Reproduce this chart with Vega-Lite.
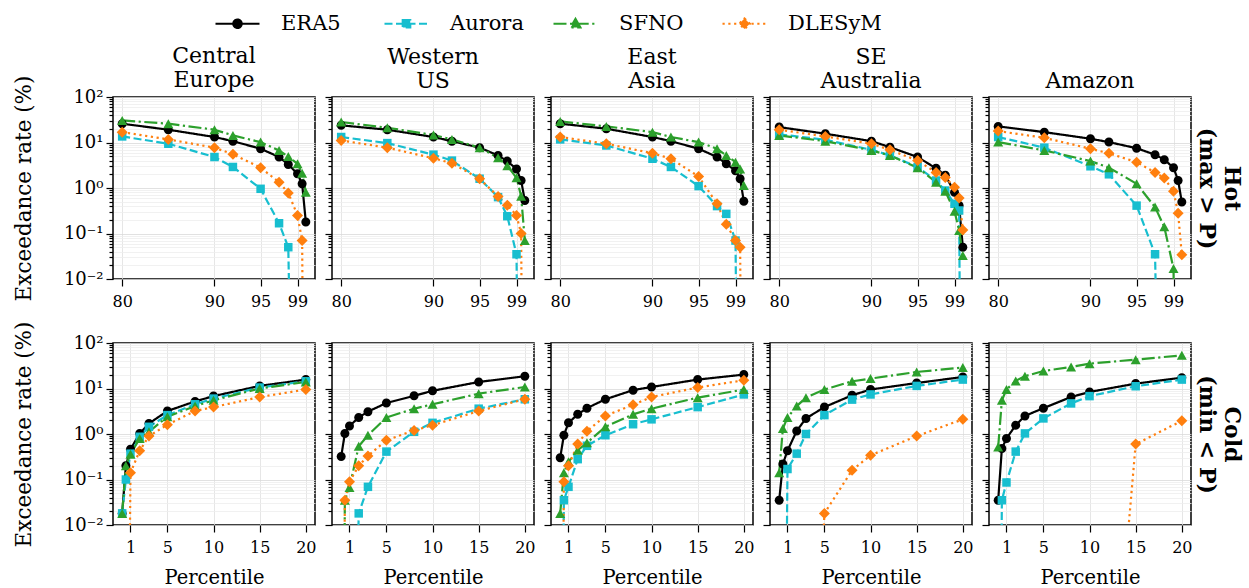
{
"$schema":"https://vega.github.io/schema/vega-lite/v6.json",
"background":"white",
"padding":{"left":12,"top":0,"right":8,"bottom":0},
"datasets":{"d":[
{"k":"h","r":"CE","m":"ERA5","p":80,"v":25.9},{"k":"h","r":"CE","m":"ERA5","p":85,"v":19.1},{"k":"h","r":"CE","m":"ERA5","p":90,"v":13.2},{"k":"h","r":"CE","m":"ERA5","p":92,"v":10.7},{"k":"h","r":"CE","m":"ERA5","p":95,"v":7.3},{"k":"h","r":"CE","m":"ERA5","p":97,"v":4.8},{"k":"h","r":"CE","m":"ERA5","p":98,"v":3.3},{"k":"h","r":"CE","m":"ERA5","p":99,"v":2.05},{"k":"h","r":"CE","m":"ERA5","p":99.5,"v":1.24},{"k":"h","r":"CE","m":"ERA5","p":99.9,"v":0.18},
{"k":"h","r":"CE","m":"Aurora","p":80,"v":13.6},{"k":"h","r":"CE","m":"Aurora","p":85,"v":9.4},{"k":"h","r":"CE","m":"Aurora","p":90,"v":4.8},{"k":"h","r":"CE","m":"Aurora","p":92,"v":2.9},{"k":"h","r":"CE","m":"Aurora","p":95,"v":0.96},{"k":"h","r":"CE","m":"Aurora","p":97,"v":0.168},{"k":"h","r":"CE","m":"Aurora","p":98,"v":0.05},{"k":"h","r":"CE","m":"Aurora","p":99,"v":1e-12},{"k":"h","r":"CE","m":"Aurora","p":99.5,"v":1e-12},{"k":"h","r":"CE","m":"Aurora","p":99.9,"v":1e-12},
{"k":"h","r":"CE","m":"SFNO","p":80,"v":30.6},{"k":"h","r":"CE","m":"SFNO","p":85,"v":25.9},{"k":"h","r":"CE","m":"SFNO","p":90,"v":19.1},{"k":"h","r":"CE","m":"SFNO","p":92,"v":14.3},{"k":"h","r":"CE","m":"SFNO","p":95,"v":10.2},{"k":"h","r":"CE","m":"SFNO","p":97,"v":6.7},{"k":"h","r":"CE","m":"SFNO","p":98,"v":4.9},{"k":"h","r":"CE","m":"SFNO","p":99,"v":3.4},{"k":"h","r":"CE","m":"SFNO","p":99.5,"v":2.1},{"k":"h","r":"CE","m":"SFNO","p":99.9,"v":0.81},
{"k":"h","r":"CE","m":"DLESyM","p":80,"v":16.9},{"k":"h","r":"CE","m":"DLESyM","p":85,"v":11.7},{"k":"h","r":"CE","m":"DLESyM","p":90,"v":7.7},{"k":"h","r":"CE","m":"DLESyM","p":92,"v":5.5},{"k":"h","r":"CE","m":"DLESyM","p":95,"v":2.8},{"k":"h","r":"CE","m":"DLESyM","p":97,"v":1.34},{"k":"h","r":"CE","m":"DLESyM","p":98,"v":0.78},{"k":"h","r":"CE","m":"DLESyM","p":99,"v":0.25},{"k":"h","r":"CE","m":"DLESyM","p":99.5,"v":0.07},{"k":"h","r":"CE","m":"DLESyM","p":99.9,"v":1e-12},

{"k":"h","r":"WUS","m":"ERA5","p":80,"v":23.8},{"k":"h","r":"WUS","m":"ERA5","p":85,"v":19.1},{"k":"h","r":"WUS","m":"ERA5","p":90,"v":13.2},{"k":"h","r":"WUS","m":"ERA5","p":92,"v":10.7},{"k":"h","r":"WUS","m":"ERA5","p":95,"v":7.7},{"k":"h","r":"WUS","m":"ERA5","p":97,"v":5.2},{"k":"h","r":"WUS","m":"ERA5","p":98,"v":3.9},{"k":"h","r":"WUS","m":"ERA5","p":99,"v":2.6},{"k":"h","r":"WUS","m":"ERA5","p":99.5,"v":1.46},{"k":"h","r":"WUS","m":"ERA5","p":99.9,"v":0.53},
{"k":"h","r":"WUS","m":"Aurora","p":80,"v":13.2},{"k":"h","r":"WUS","m":"Aurora","p":85,"v":9.7},{"k":"h","r":"WUS","m":"Aurora","p":90,"v":5.4},{"k":"h","r":"WUS","m":"Aurora","p":92,"v":4.0},{"k":"h","r":"WUS","m":"Aurora","p":95,"v":1.6},{"k":"h","r":"WUS","m":"Aurora","p":97,"v":0.63},{"k":"h","r":"WUS","m":"Aurora","p":98,"v":0.24},{"k":"h","r":"WUS","m":"Aurora","p":99,"v":0.035},{"k":"h","r":"WUS","m":"Aurora","p":99.5,"v":1e-12},{"k":"h","r":"WUS","m":"Aurora","p":99.9,"v":1e-12},
{"k":"h","r":"WUS","m":"SFNO","p":80,"v":28.2},{"k":"h","r":"WUS","m":"SFNO","p":85,"v":21.1},{"k":"h","r":"WUS","m":"SFNO","p":90,"v":14.6},{"k":"h","r":"WUS","m":"SFNO","p":92,"v":11.7},{"k":"h","r":"WUS","m":"SFNO","p":95,"v":7.7},{"k":"h","r":"WUS","m":"SFNO","p":97,"v":4.6},{"k":"h","r":"WUS","m":"SFNO","p":98,"v":3.1},{"k":"h","r":"WUS","m":"SFNO","p":99,"v":1.67},{"k":"h","r":"WUS","m":"SFNO","p":99.5,"v":0.66},{"k":"h","r":"WUS","m":"SFNO","p":99.9,"v":0.07},
{"k":"h","r":"WUS","m":"DLESyM","p":80,"v":11.1},{"k":"h","r":"WUS","m":"DLESyM","p":85,"v":7.7},{"k":"h","r":"WUS","m":"DLESyM","p":90,"v":4.5},{"k":"h","r":"WUS","m":"DLESyM","p":92,"v":3.5},{"k":"h","r":"WUS","m":"DLESyM","p":95,"v":1.6},{"k":"h","r":"WUS","m":"DLESyM","p":97,"v":0.65},{"k":"h","r":"WUS","m":"DLESyM","p":98,"v":0.42},{"k":"h","r":"WUS","m":"DLESyM","p":99,"v":0.25},{"k":"h","r":"WUS","m":"DLESyM","p":99.5,"v":0.1},{"k":"h","r":"WUS","m":"DLESyM","p":99.9,"v":1e-12},

{"k":"h","r":"EA","m":"ERA5","p":80,"v":25.9},{"k":"h","r":"EA","m":"ERA5","p":85,"v":20.1},{"k":"h","r":"EA","m":"ERA5","p":90,"v":13.2},{"k":"h","r":"EA","m":"ERA5","p":92,"v":10.7},{"k":"h","r":"EA","m":"ERA5","p":95,"v":7.3},{"k":"h","r":"EA","m":"ERA5","p":97,"v":4.8},{"k":"h","r":"EA","m":"ERA5","p":98,"v":3.4},{"k":"h","r":"EA","m":"ERA5","p":99,"v":2.4},{"k":"h","r":"EA","m":"ERA5","p":99.5,"v":1.6},{"k":"h","r":"EA","m":"ERA5","p":99.9,"v":0.51},
{"k":"h","r":"EA","m":"Aurora","p":80,"v":11.7},{"k":"h","r":"EA","m":"Aurora","p":85,"v":8.6},{"k":"h","r":"EA","m":"Aurora","p":90,"v":4.4},{"k":"h","r":"EA","m":"Aurora","p":92,"v":2.9},{"k":"h","r":"EA","m":"Aurora","p":95,"v":1.1},{"k":"h","r":"EA","m":"Aurora","p":97,"v":0.4},{"k":"h","r":"EA","m":"Aurora","p":98,"v":0.27},{"k":"h","r":"EA","m":"Aurora","p":99,"v":0.07},{"k":"h","r":"EA","m":"Aurora","p":99.5,"v":1e-12},{"k":"h","r":"EA","m":"Aurora","p":99.9,"v":1e-12},
{"k":"h","r":"EA","m":"SFNO","p":80,"v":29.1},{"k":"h","r":"EA","m":"SFNO","p":85,"v":22.6},{"k":"h","r":"EA","m":"SFNO","p":90,"v":16.9},{"k":"h","r":"EA","m":"SFNO","p":92,"v":13.2},{"k":"h","r":"EA","m":"SFNO","p":95,"v":10.2},{"k":"h","r":"EA","m":"SFNO","p":97,"v":7.3},{"k":"h","r":"EA","m":"SFNO","p":98,"v":5.2},{"k":"h","r":"EA","m":"SFNO","p":99,"v":3.7},{"k":"h","r":"EA","m":"SFNO","p":99.5,"v":2.6},{"k":"h","r":"EA","m":"SFNO","p":99.9,"v":1.14},
{"k":"h","r":"EA","m":"DLESyM","p":80,"v":13.2},{"k":"h","r":"EA","m":"DLESyM","p":85,"v":9.4},{"k":"h","r":"EA","m":"DLESyM","p":90,"v":5.8},{"k":"h","r":"EA","m":"DLESyM","p":92,"v":4.4},{"k":"h","r":"EA","m":"DLESyM","p":95,"v":1.8},{"k":"h","r":"EA","m":"DLESyM","p":97,"v":0.45},{"k":"h","r":"EA","m":"DLESyM","p":98,"v":0.16},{"k":"h","r":"EA","m":"DLESyM","p":99,"v":0.07},{"k":"h","r":"EA","m":"DLESyM","p":99.5,"v":0.05},{"k":"h","r":"EA","m":"DLESyM","p":99.9,"v":1e-12},

{"k":"h","r":"SEA","m":"ERA5","p":80,"v":21.8},{"k":"h","r":"SEA","m":"ERA5","p":85,"v":15.6},{"k":"h","r":"SEA","m":"ERA5","p":90,"v":10.7},{"k":"h","r":"SEA","m":"ERA5","p":92,"v":7.9},{"k":"h","r":"SEA","m":"ERA5","p":95,"v":4.8},{"k":"h","r":"SEA","m":"ERA5","p":97,"v":2.7},{"k":"h","r":"SEA","m":"ERA5","p":98,"v":1.9},{"k":"h","r":"SEA","m":"ERA5","p":99,"v":0.81},{"k":"h","r":"SEA","m":"ERA5","p":99.5,"v":0.41},{"k":"h","r":"SEA","m":"ERA5","p":99.9,"v":0.05},
{"k":"h","r":"SEA","m":"Aurora","p":80,"v":15.1},{"k":"h","r":"SEA","m":"Aurora","p":85,"v":11.5},{"k":"h","r":"SEA","m":"Aurora","p":90,"v":6.9},{"k":"h","r":"SEA","m":"Aurora","p":92,"v":5.2},{"k":"h","r":"SEA","m":"Aurora","p":95,"v":2.9},{"k":"h","r":"SEA","m":"Aurora","p":97,"v":1.46},{"k":"h","r":"SEA","m":"Aurora","p":98,"v":0.88},{"k":"h","r":"SEA","m":"Aurora","p":99,"v":0.45},{"k":"h","r":"SEA","m":"Aurora","p":99.5,"v":0.32},{"k":"h","r":"SEA","m":"Aurora","p":99.9,"v":1e-12},
{"k":"h","r":"SEA","m":"SFNO","p":80,"v":14.3},{"k":"h","r":"SEA","m":"SFNO","p":85,"v":10.7},{"k":"h","r":"SEA","m":"SFNO","p":90,"v":6.7},{"k":"h","r":"SEA","m":"SFNO","p":92,"v":5.2},{"k":"h","r":"SEA","m":"SFNO","p":95,"v":2.8},{"k":"h","r":"SEA","m":"SFNO","p":97,"v":1.34},{"k":"h","r":"SEA","m":"SFNO","p":98,"v":0.85},{"k":"h","r":"SEA","m":"SFNO","p":99,"v":0.31},{"k":"h","r":"SEA","m":"SFNO","p":99.5,"v":0.116},{"k":"h","r":"SEA","m":"SFNO","p":99.9,"v":0.033},
{"k":"h","r":"SEA","m":"DLESyM","p":80,"v":19.1},{"k":"h","r":"SEA","m":"DLESyM","p":85,"v":13.6},{"k":"h","r":"SEA","m":"DLESyM","p":90,"v":9.4},{"k":"h","r":"SEA","m":"DLESyM","p":92,"v":6.9},{"k":"h","r":"SEA","m":"DLESyM","p":95,"v":4.0},{"k":"h","r":"SEA","m":"DLESyM","p":97,"v":2.2},{"k":"h","r":"SEA","m":"DLESyM","p":98,"v":1.7},{"k":"h","r":"SEA","m":"DLESyM","p":99,"v":1.04},{"k":"h","r":"SEA","m":"DLESyM","p":99.5,"v":0.6},{"k":"h","r":"SEA","m":"DLESyM","p":99.9,"v":0.12},

{"k":"h","r":"AMZ","m":"ERA5","p":80,"v":22.6},{"k":"h","r":"AMZ","m":"ERA5","p":85,"v":16.9},{"k":"h","r":"AMZ","m":"ERA5","p":90,"v":12.1},{"k":"h","r":"AMZ","m":"ERA5","p":92,"v":10.2},{"k":"h","r":"AMZ","m":"ERA5","p":95,"v":7.5},{"k":"h","r":"AMZ","m":"ERA5","p":97,"v":5.4},{"k":"h","r":"AMZ","m":"ERA5","p":98,"v":4.2},{"k":"h","r":"AMZ","m":"ERA5","p":99,"v":2.8},{"k":"h","r":"AMZ","m":"ERA5","p":99.5,"v":1.46},{"k":"h","r":"AMZ","m":"ERA5","p":99.9,"v":0.49},
{"k":"h","r":"AMZ","m":"Aurora","p":80,"v":13.2},{"k":"h","r":"AMZ","m":"Aurora","p":85,"v":7.7},{"k":"h","r":"AMZ","m":"Aurora","p":90,"v":3.0},{"k":"h","r":"AMZ","m":"Aurora","p":92,"v":2.0},{"k":"h","r":"AMZ","m":"Aurora","p":95,"v":0.41},{"k":"h","r":"AMZ","m":"Aurora","p":97,"v":0.035},{"k":"h","r":"AMZ","m":"Aurora","p":98,"v":1e-12},{"k":"h","r":"AMZ","m":"Aurora","p":99,"v":1e-12},{"k":"h","r":"AMZ","m":"Aurora","p":99.5,"v":1e-12},{"k":"h","r":"AMZ","m":"Aurora","p":99.9,"v":1e-12},
{"k":"h","r":"AMZ","m":"SFNO","p":80,"v":10.2},{"k":"h","r":"AMZ","m":"SFNO","p":85,"v":6.7},{"k":"h","r":"AMZ","m":"SFNO","p":90,"v":3.9},{"k":"h","r":"AMZ","m":"SFNO","p":92,"v":2.8},{"k":"h","r":"AMZ","m":"SFNO","p":95,"v":1.24},{"k":"h","r":"AMZ","m":"SFNO","p":97,"v":0.38},{"k":"h","r":"AMZ","m":"SFNO","p":98,"v":0.14},{"k":"h","r":"AMZ","m":"SFNO","p":99,"v":0.017},{"k":"h","r":"AMZ","m":"SFNO","p":99.5,"v":1e-12},{"k":"h","r":"AMZ","m":"SFNO","p":99.9,"v":1e-12},
{"k":"h","r":"AMZ","m":"DLESyM","p":80,"v":17.8},{"k":"h","r":"AMZ","m":"DLESyM","p":85,"v":12.7},{"k":"h","r":"AMZ","m":"DLESyM","p":90,"v":7.3},{"k":"h","r":"AMZ","m":"DLESyM","p":92,"v":5.8},{"k":"h","r":"AMZ","m":"DLESyM","p":95,"v":3.7},{"k":"h","r":"AMZ","m":"DLESyM","p":97,"v":2.2},{"k":"h","r":"AMZ","m":"DLESyM","p":98,"v":1.65},{"k":"h","r":"AMZ","m":"DLESyM","p":99,"v":0.85},{"k":"h","r":"AMZ","m":"DLESyM","p":99.5,"v":0.28},{"k":"h","r":"AMZ","m":"DLESyM","p":99.9,"v":0.034},

{"k":"c","r":"CE","m":"ERA5","p":0.1,"v":0.018},{"k":"c","r":"CE","m":"ERA5","p":0.5,"v":0.2},{"k":"c","r":"CE","m":"ERA5","p":1,"v":0.46},{"k":"c","r":"CE","m":"ERA5","p":2,"v":1.03},{"k":"c","r":"CE","m":"ERA5","p":3,"v":1.7},{"k":"c","r":"CE","m":"ERA5","p":5,"v":3.2},{"k":"c","r":"CE","m":"ERA5","p":8,"v":5.2},{"k":"c","r":"CE","m":"ERA5","p":10,"v":6.8},{"k":"c","r":"CE","m":"ERA5","p":15,"v":11.4},{"k":"c","r":"CE","m":"ERA5","p":20,"v":15.7},
{"k":"c","r":"CE","m":"Aurora","p":0.1,"v":0.018},{"k":"c","r":"CE","m":"Aurora","p":0.5,"v":0.1},{"k":"c","r":"CE","m":"Aurora","p":1,"v":0.37},{"k":"c","r":"CE","m":"Aurora","p":2,"v":0.87},{"k":"c","r":"CE","m":"Aurora","p":3,"v":1.44},{"k":"c","r":"CE","m":"Aurora","p":5,"v":2.6},{"k":"c","r":"CE","m":"Aurora","p":8,"v":4.5},{"k":"c","r":"CE","m":"Aurora","p":10,"v":6.0},{"k":"c","r":"CE","m":"Aurora","p":15,"v":10.5},{"k":"c","r":"CE","m":"Aurora","p":20,"v":14.4},
{"k":"c","r":"CE","m":"SFNO","p":0.1,"v":0.018},{"k":"c","r":"CE","m":"SFNO","p":0.5,"v":0.2},{"k":"c","r":"CE","m":"SFNO","p":1,"v":0.36},{"k":"c","r":"CE","m":"SFNO","p":2,"v":0.8},{"k":"c","r":"CE","m":"SFNO","p":3,"v":1.12},{"k":"c","r":"CE","m":"SFNO","p":5,"v":2.4},{"k":"c","r":"CE","m":"SFNO","p":8,"v":4.1},{"k":"c","r":"CE","m":"SFNO","p":10,"v":5.5},{"k":"c","r":"CE","m":"SFNO","p":15,"v":10.0},{"k":"c","r":"CE","m":"SFNO","p":20,"v":13.9},
{"k":"c","r":"CE","m":"DLESyM","p":0.1,"v":1e-12},{"k":"c","r":"CE","m":"DLESyM","p":0.5,"v":1e-12},{"k":"c","r":"CE","m":"DLESyM","p":1,"v":0.14},{"k":"c","r":"CE","m":"DLESyM","p":2,"v":0.43},{"k":"c","r":"CE","m":"DLESyM","p":3,"v":0.9},{"k":"c","r":"CE","m":"DLESyM","p":5,"v":1.6},{"k":"c","r":"CE","m":"DLESyM","p":8,"v":3.2},{"k":"c","r":"CE","m":"DLESyM","p":10,"v":3.9},{"k":"c","r":"CE","m":"DLESyM","p":15,"v":6.5},{"k":"c","r":"CE","m":"DLESyM","p":20,"v":9.5},

{"k":"c","r":"WUS","m":"ERA5","p":0.1,"v":0.32},{"k":"c","r":"WUS","m":"ERA5","p":0.5,"v":1.03},{"k":"c","r":"WUS","m":"ERA5","p":1,"v":1.5},{"k":"c","r":"WUS","m":"ERA5","p":2,"v":2.3},{"k":"c","r":"WUS","m":"ERA5","p":3,"v":3.1},{"k":"c","r":"WUS","m":"ERA5","p":5,"v":4.8},{"k":"c","r":"WUS","m":"ERA5","p":8,"v":6.9},{"k":"c","r":"WUS","m":"ERA5","p":10,"v":8.9},{"k":"c","r":"WUS","m":"ERA5","p":15,"v":13.9},{"k":"c","r":"WUS","m":"ERA5","p":20,"v":18.6},
{"k":"c","r":"WUS","m":"Aurora","p":0.1,"v":1e-12},{"k":"c","r":"WUS","m":"Aurora","p":0.5,"v":1e-12},{"k":"c","r":"WUS","m":"Aurora","p":1,"v":1e-12},{"k":"c","r":"WUS","m":"Aurora","p":2,"v":0.018},{"k":"c","r":"WUS","m":"Aurora","p":3,"v":0.069},{"k":"c","r":"WUS","m":"Aurora","p":5,"v":0.41},{"k":"c","r":"WUS","m":"Aurora","p":8,"v":1.12},{"k":"c","r":"WUS","m":"Aurora","p":10,"v":1.76},{"k":"c","r":"WUS","m":"Aurora","p":15,"v":3.6},{"k":"c","r":"WUS","m":"Aurora","p":20,"v":5.8},
{"k":"c","r":"WUS","m":"SFNO","p":0.1,"v":1e-12},{"k":"c","r":"WUS","m":"SFNO","p":0.5,"v":0.035},{"k":"c","r":"WUS","m":"SFNO","p":1,"v":0.067},{"k":"c","r":"WUS","m":"SFNO","p":2,"v":0.54},{"k":"c","r":"WUS","m":"SFNO","p":3,"v":0.94},{"k":"c","r":"WUS","m":"SFNO","p":5,"v":2.3},{"k":"c","r":"WUS","m":"SFNO","p":8,"v":3.6},{"k":"c","r":"WUS","m":"SFNO","p":10,"v":4.5},{"k":"c","r":"WUS","m":"SFNO","p":15,"v":7.7},{"k":"c","r":"WUS","m":"SFNO","p":20,"v":10.8},
{"k":"c","r":"WUS","m":"DLESyM","p":0.1,"v":1e-12},{"k":"c","r":"WUS","m":"DLESyM","p":0.5,"v":0.035},{"k":"c","r":"WUS","m":"DLESyM","p":1,"v":0.089},{"k":"c","r":"WUS","m":"DLESyM","p":2,"v":0.2},{"k":"c","r":"WUS","m":"DLESyM","p":3,"v":0.33},{"k":"c","r":"WUS","m":"DLESyM","p":5,"v":0.73},{"k":"c","r":"WUS","m":"DLESyM","p":8,"v":1.2},{"k":"c","r":"WUS","m":"DLESyM","p":10,"v":1.56},{"k":"c","r":"WUS","m":"DLESyM","p":15,"v":3.2},{"k":"c","r":"WUS","m":"DLESyM","p":20,"v":5.8},

{"k":"c","r":"EA","m":"ERA5","p":0.1,"v":0.3},{"k":"c","r":"EA","m":"ERA5","p":0.5,"v":0.94},{"k":"c","r":"EA","m":"ERA5","p":1,"v":1.76},{"k":"c","r":"EA","m":"ERA5","p":2,"v":2.7},{"k":"c","r":"EA","m":"ERA5","p":3,"v":3.7},{"k":"c","r":"EA","m":"ERA5","p":5,"v":5.8},{"k":"c","r":"EA","m":"ERA5","p":8,"v":9.2},{"k":"c","r":"EA","m":"ERA5","p":10,"v":10.8},{"k":"c","r":"EA","m":"ERA5","p":15,"v":15.7},{"k":"c","r":"EA","m":"ERA5","p":20,"v":20.2},
{"k":"c","r":"EA","m":"Aurora","p":0.1,"v":1e-12},{"k":"c","r":"EA","m":"Aurora","p":0.5,"v":0.035},{"k":"c","r":"EA","m":"Aurora","p":1,"v":0.069},{"k":"c","r":"EA","m":"Aurora","p":2,"v":0.28},{"k":"c","r":"EA","m":"Aurora","p":3,"v":0.55},{"k":"c","r":"EA","m":"Aurora","p":5,"v":0.94},{"k":"c","r":"EA","m":"Aurora","p":8,"v":1.64},{"k":"c","r":"EA","m":"Aurora","p":10,"v":2.1},{"k":"c","r":"EA","m":"Aurora","p":15,"v":3.9},{"k":"c","r":"EA","m":"Aurora","p":20,"v":7.4},
{"k":"c","r":"EA","m":"SFNO","p":0.1,"v":0.018},{"k":"c","r":"EA","m":"SFNO","p":0.5,"v":0.14},{"k":"c","r":"EA","m":"SFNO","p":1,"v":0.245},{"k":"c","r":"EA","m":"SFNO","p":2,"v":0.44},{"k":"c","r":"EA","m":"SFNO","p":3,"v":0.64},{"k":"c","r":"EA","m":"SFNO","p":5,"v":1.44},{"k":"c","r":"EA","m":"SFNO","p":8,"v":2.7},{"k":"c","r":"EA","m":"SFNO","p":10,"v":3.6},{"k":"c","r":"EA","m":"SFNO","p":15,"v":6.3},{"k":"c","r":"EA","m":"SFNO","p":20,"v":9.5},
{"k":"c","r":"EA","m":"DLESyM","p":0.1,"v":1e-12},{"k":"c","r":"EA","m":"DLESyM","p":0.5,"v":0.089},{"k":"c","r":"EA","m":"DLESyM","p":1,"v":0.2},{"k":"c","r":"EA","m":"DLESyM","p":2,"v":0.6},{"k":"c","r":"EA","m":"DLESyM","p":3,"v":1.15},{"k":"c","r":"EA","m":"DLESyM","p":5,"v":2.5},{"k":"c","r":"EA","m":"DLESyM","p":8,"v":4.4},{"k":"c","r":"EA","m":"DLESyM","p":10,"v":6.5},{"k":"c","r":"EA","m":"DLESyM","p":15,"v":10.5},{"k":"c","r":"EA","m":"DLESyM","p":20,"v":15.2},

{"k":"c","r":"SEA","m":"ERA5","p":0.1,"v":0.035},{"k":"c","r":"SEA","m":"ERA5","p":0.5,"v":0.22},{"k":"c","r":"SEA","m":"ERA5","p":1,"v":0.43},{"k":"c","r":"SEA","m":"ERA5","p":2,"v":1.17},{"k":"c","r":"SEA","m":"ERA5","p":3,"v":2.2},{"k":"c","r":"SEA","m":"ERA5","p":5,"v":3.9},{"k":"c","r":"SEA","m":"ERA5","p":8,"v":7.1},{"k":"c","r":"SEA","m":"ERA5","p":10,"v":9.5},{"k":"c","r":"SEA","m":"ERA5","p":15,"v":13.2},{"k":"c","r":"SEA","m":"ERA5","p":20,"v":17.9},
{"k":"c","r":"SEA","m":"Aurora","p":0.1,"v":1e-12},{"k":"c","r":"SEA","m":"Aurora","p":0.5,"v":1e-12},{"k":"c","r":"SEA","m":"Aurora","p":1,"v":0.17},{"k":"c","r":"SEA","m":"Aurora","p":2,"v":0.37},{"k":"c","r":"SEA","m":"Aurora","p":3,"v":1.0},{"k":"c","r":"SEA","m":"Aurora","p":5,"v":2.6},{"k":"c","r":"SEA","m":"Aurora","p":8,"v":5.7},{"k":"c","r":"SEA","m":"Aurora","p":10,"v":7.4},{"k":"c","r":"SEA","m":"Aurora","p":15,"v":11.4},{"k":"c","r":"SEA","m":"Aurora","p":20,"v":15.7},
{"k":"c","r":"SEA","m":"SFNO","p":0.1,"v":0.14},{"k":"c","r":"SEA","m":"SFNO","p":0.5,"v":1.32},{"k":"c","r":"SEA","m":"SFNO","p":1,"v":2.3},{"k":"c","r":"SEA","m":"SFNO","p":2,"v":4.1},{"k":"c","r":"SEA","m":"SFNO","p":3,"v":6.3},{"k":"c","r":"SEA","m":"SFNO","p":5,"v":9.5},{"k":"c","r":"SEA","m":"SFNO","p":8,"v":14.4},{"k":"c","r":"SEA","m":"SFNO","p":10,"v":16.5},{"k":"c","r":"SEA","m":"SFNO","p":15,"v":23.1},{"k":"c","r":"SEA","m":"SFNO","p":20,"v":28.8},
{"k":"c","r":"SEA","m":"DLESyM","p":0.1,"v":1e-12},{"k":"c","r":"SEA","m":"DLESyM","p":0.5,"v":1e-12},{"k":"c","r":"SEA","m":"DLESyM","p":1,"v":1e-12},{"k":"c","r":"SEA","m":"DLESyM","p":2,"v":1e-12},{"k":"c","r":"SEA","m":"DLESyM","p":3,"v":1e-12},{"k":"c","r":"SEA","m":"DLESyM","p":5,"v":0.018},{"k":"c","r":"SEA","m":"DLESyM","p":8,"v":0.16},{"k":"c","r":"SEA","m":"DLESyM","p":10,"v":0.34},{"k":"c","r":"SEA","m":"DLESyM","p":15,"v":0.9},{"k":"c","r":"SEA","m":"DLESyM","p":20,"v":2.1},

{"k":"c","r":"AMZ","m":"ERA5","p":0.1,"v":0.035},{"k":"c","r":"AMZ","m":"ERA5","p":0.5,"v":0.48},{"k":"c","r":"AMZ","m":"ERA5","p":1,"v":0.8},{"k":"c","r":"AMZ","m":"ERA5","p":2,"v":1.56},{"k":"c","r":"AMZ","m":"ERA5","p":3,"v":2.5},{"k":"c","r":"AMZ","m":"ERA5","p":5,"v":3.7},{"k":"c","r":"AMZ","m":"ERA5","p":8,"v":6.5},{"k":"c","r":"AMZ","m":"ERA5","p":10,"v":8.4},{"k":"c","r":"AMZ","m":"ERA5","p":15,"v":12.8},{"k":"c","r":"AMZ","m":"ERA5","p":20,"v":17.3},
{"k":"c","r":"AMZ","m":"Aurora","p":0.1,"v":1e-12},{"k":"c","r":"AMZ","m":"Aurora","p":0.5,"v":0.035},{"k":"c","r":"AMZ","m":"Aurora","p":1,"v":0.086},{"k":"c","r":"AMZ","m":"Aurora","p":2,"v":0.41},{"k":"c","r":"AMZ","m":"Aurora","p":3,"v":1.03},{"k":"c","r":"AMZ","m":"Aurora","p":5,"v":2.2},{"k":"c","r":"AMZ","m":"Aurora","p":8,"v":4.7},{"k":"c","r":"AMZ","m":"Aurora","p":10,"v":6.8},{"k":"c","r":"AMZ","m":"Aurora","p":15,"v":11.2},{"k":"c","r":"AMZ","m":"Aurora","p":20,"v":15.7},
{"k":"c","r":"AMZ","m":"SFNO","p":0.1,"v":0.52},{"k":"c","r":"AMZ","m":"SFNO","p":0.5,"v":5.5},{"k":"c","r":"AMZ","m":"SFNO","p":1,"v":9.5},{"k":"c","r":"AMZ","m":"SFNO","p":2,"v":14.7},{"k":"c","r":"AMZ","m":"SFNO","p":3,"v":18.6},{"k":"c","r":"AMZ","m":"SFNO","p":5,"v":24.3},{"k":"c","r":"AMZ","m":"SFNO","p":8,"v":29.7},{"k":"c","r":"AMZ","m":"SFNO","p":10,"v":35.2},{"k":"c","r":"AMZ","m":"SFNO","p":15,"v":43.1},{"k":"c","r":"AMZ","m":"SFNO","p":20,"v":53.6},
{"k":"c","r":"AMZ","m":"DLESyM","p":0.1,"v":1e-12},{"k":"c","r":"AMZ","m":"DLESyM","p":0.5,"v":1e-12},{"k":"c","r":"AMZ","m":"DLESyM","p":1,"v":1e-12},{"k":"c","r":"AMZ","m":"DLESyM","p":2,"v":1e-12},{"k":"c","r":"AMZ","m":"DLESyM","p":3,"v":1e-12},{"k":"c","r":"AMZ","m":"DLESyM","p":5,"v":1e-12},{"k":"c","r":"AMZ","m":"DLESyM","p":8,"v":1e-12},{"k":"c","r":"AMZ","m":"DLESyM","p":10,"v":1e-12},{"k":"c","r":"AMZ","m":"DLESyM","p":15,"v":0.6},{"k":"c","r":"AMZ","m":"DLESyM","p":20,"v":1.95}
]},
"data":{"name":"d"},
"config":{
 "font":"DejaVu Serif",
 "view":{"stroke":"#000000","strokeWidth":1.5},
 "axis":{"labelFont":"DejaVu Serif","titleFont":"DejaVu Serif","labelColor":"#000000","titleColor":"#000000","titleFontWeight":"normal","tickColor":"#000000","tickWidth":1.2,"domain":false,"grid":true,"gridWidth":0.8},
 "title":{"font":"DejaVu Serif","fontSize":22,"fontWeight":"normal","color":"#000000","anchor":"middle","baseline":"bottom","offset":3,"lineHeight":24}
},
"spacing":{"row":64,"column":17},
"bounds":"flush",
"columns":5,
"concat":[
{"width":202,"height":182,"title":{"text":["Central","Europe"],"offset":-17},"transform":[{"filter":"datum.k==='h'&&datum.r==='CE'"}],
 "layer":[
  {"mark":{"type":"line","clip":true,"strokeWidth":2.2},
   "encoding":{
    "x":{"field":"p","type":"quantitative","scale":{"domain":[79.005,100.895],"nice":false,"zero":false},"axis":{"values":[80,90,95,99],"title":null,"tickSize":7,"labelFontSize":16,"labelPadding":7,"gridColor":"#e0e0e0"}},
    "y":{"field":"v","type":"quantitative","scale":{"type":"log","domain":[0.01,100],"nice":false},"axis":{"values":[0.01,0.02,0.03,0.04,0.05,0.06,0.07,0.08,0.09,0.1,0.2,0.3,0.4,0.5,0.6,0.7,0.8,0.9,1,2,3,4,5,6,7,8,9,10,20,30,40,50,60,70,80,90,100],"labelExpr":"datum.value===100?'10²':datum.value===10?'10¹':datum.value===1?'10⁰':datum.value===0.1?'10⁻¹':datum.value===0.01?'10⁻²':''","title":"Exceedance rate (%)","titleFontSize":21.5,"labelFontSize":18,"labelPadding":3,"titlePadding":28,"tickSize":{"condition":{"test":"datum.value===0.01||datum.value===0.1||datum.value===1||datum.value===10||datum.value===100","value":7},"value":4},"gridColor":{"condition":{"test":"datum.value===0.01||datum.value===0.1||datum.value===1||datum.value===10||datum.value===100","value":"#d9d9d9"},"value":"#eeeeee"}}},
    "color":{"field":"m","type":"nominal","scale":{"domain":["ERA5","Aurora","SFNO","DLESyM"],"range":["#000000","#17becf","#2ca02c","#ff7f0e"]},
      "legend":{"orient":"none","legendX":101,"legendY":-97,"direction":"horizontal","columns":4,"gridAlign":"all","title":null,"symbolSize":1936,"symbolStrokeWidth":2.2,"labelFont":"DejaVu Serif","labelFontSize":21,"labelColor":"#000000","labelOffset":20,"columnPadding":5,"padding":0,
       "encode":{"symbols":{"update":{
        "shape":{"signal":"datum.value==='ERA5'?'M-1,0L1,0M0.19,0A0.19,0.19,0,1,1,-0.19,0A0.19,0.19,0,1,1,0.19,0Z':datum.value==='Aurora'?'M-1,0L1,0M-0.17,-0.17L0.17,-0.17L0.17,0.17L-0.17,0.17Z':datum.value==='SFNO'?'M-1,0L1,0M0,-0.22L0.22,0.17L-0.22,0.17Z':'M-1,0L1,0M0,-0.24L0.24,0L0,0.24L-0.24,0Z'"},
        "strokeDash":{"signal":"datum.value==='ERA5'?[1,0]:datum.value==='Aurora'?[8,3.5]:datum.value==='SFNO'?[13,3.5,2.2,3.5]:[2.2,3.6]"},
        "fill":{"signal":"datum.value==='ERA5'?'#000000':datum.value==='Aurora'?'#17becf':datum.value==='SFNO'?'#2ca02c':'#ff7f0e'"},
        "stroke":{"signal":"datum.value==='ERA5'?'#000000':datum.value==='Aurora'?'#17becf':datum.value==='SFNO'?'#2ca02c':'#ff7f0e'"},
        "opacity":{"value":1},"strokeWidth":{"value":2.2}}}}}},
    "strokeDash":{"field":"m","type":"nominal","scale":{"domain":["ERA5","Aurora","SFNO","DLESyM"],"range":[[1,0],[8,3.5],[13,3.5,2.2,3.5],[2.2,3.6]]},"legend":null}}},
  {"transform":[{"filter":"datum.m==='ERA5'"}],"mark":{"type":"point","clip":true,"filled":true,"opacity":1,"size":100,"strokeWidth":0,"color":"#000000","shape":"M0.9,0A0.9,0.9,0,1,1,-0.9,0A0.9,0.9,0,1,1,0.9,0Z"},"encoding":{"x":{"field":"p","type":"quantitative"},"y":{"field":"v","type":"quantitative"}}},
  {"transform":[{"filter":"datum.m==='Aurora'"}],"mark":{"type":"point","clip":true,"filled":true,"opacity":1,"size":100,"strokeWidth":0,"color":"#17becf","shape":"M-0.85,-0.85L0.85,-0.85L0.85,0.85L-0.85,0.85Z"},"encoding":{"x":{"field":"p","type":"quantitative"},"y":{"field":"v","type":"quantitative"}}},
  {"transform":[{"filter":"datum.m==='SFNO'"}],"mark":{"type":"point","clip":true,"filled":true,"opacity":1,"size":100,"strokeWidth":0,"color":"#2ca02c","shape":"M0,-0.9L1,0.9L-1,0.9Z"},"encoding":{"x":{"field":"p","type":"quantitative"},"y":{"field":"v","type":"quantitative"}}},
  {"transform":[{"filter":"datum.m==='DLESyM'"}],"mark":{"type":"point","clip":true,"filled":true,"opacity":1,"size":100,"strokeWidth":0,"color":"#ff7f0e","shape":"M0,-1.1L1.1,0L0,1.1L-1.1,0Z"},"encoding":{"x":{"field":"p","type":"quantitative"},"y":{"field":"v","type":"quantitative"}}}
 ]},
{"width":202,"height":182,"title":{"text":["Western","US"]},"transform":[{"filter":"datum.k==='h'&&datum.r==='WUS'"}],
 "layer":[
  {"mark":{"type":"line","clip":true,"strokeWidth":2.2},
   "encoding":{
    "x":{"field":"p","type":"quantitative","scale":{"domain":[79.005,100.895],"nice":false,"zero":false},"axis":{"values":[80,90,95,99],"title":null,"tickSize":7,"labelFontSize":16,"labelPadding":7,"gridColor":"#e0e0e0"}},
    "y":{"field":"v","type":"quantitative","scale":{"type":"log","domain":[0.01,100],"nice":false},"axis":{"values":[0.01,0.02,0.03,0.04,0.05,0.06,0.07,0.08,0.09,0.1,0.2,0.3,0.4,0.5,0.6,0.7,0.8,0.9,1,2,3,4,5,6,7,8,9,10,20,30,40,50,60,70,80,90,100],"labels":false,"title":null,"tickSize":{"condition":{"test":"datum.value===0.01||datum.value===0.1||datum.value===1||datum.value===10||datum.value===100","value":7},"value":4},"gridColor":{"condition":{"test":"datum.value===0.01||datum.value===0.1||datum.value===1||datum.value===10||datum.value===100","value":"#d9d9d9"},"value":"#eeeeee"}}},
    "color":{"field":"m","type":"nominal","scale":{"domain":["ERA5","Aurora","SFNO","DLESyM"],"range":["#000000","#17becf","#2ca02c","#ff7f0e"]}},
    "strokeDash":{"field":"m","type":"nominal","scale":{"domain":["ERA5","Aurora","SFNO","DLESyM"],"range":[[1,0],[8,3.5],[13,3.5,2.2,3.5],[2.2,3.6]]},"legend":null}}},
  {"transform":[{"filter":"datum.m==='ERA5'"}],"mark":{"type":"point","clip":true,"filled":true,"opacity":1,"size":100,"strokeWidth":0,"color":"#000000","shape":"M0.9,0A0.9,0.9,0,1,1,-0.9,0A0.9,0.9,0,1,1,0.9,0Z"},"encoding":{"x":{"field":"p","type":"quantitative"},"y":{"field":"v","type":"quantitative"}}},
  {"transform":[{"filter":"datum.m==='Aurora'"}],"mark":{"type":"point","clip":true,"filled":true,"opacity":1,"size":100,"strokeWidth":0,"color":"#17becf","shape":"M-0.85,-0.85L0.85,-0.85L0.85,0.85L-0.85,0.85Z"},"encoding":{"x":{"field":"p","type":"quantitative"},"y":{"field":"v","type":"quantitative"}}},
  {"transform":[{"filter":"datum.m==='SFNO'"}],"mark":{"type":"point","clip":true,"filled":true,"opacity":1,"size":100,"strokeWidth":0,"color":"#2ca02c","shape":"M0,-0.9L1,0.9L-1,0.9Z"},"encoding":{"x":{"field":"p","type":"quantitative"},"y":{"field":"v","type":"quantitative"}}},
  {"transform":[{"filter":"datum.m==='DLESyM'"}],"mark":{"type":"point","clip":true,"filled":true,"opacity":1,"size":100,"strokeWidth":0,"color":"#ff7f0e","shape":"M0,-1.1L1.1,0L0,1.1L-1.1,0Z"},"encoding":{"x":{"field":"p","type":"quantitative"},"y":{"field":"v","type":"quantitative"}}}
 ]},
{"width":202,"height":182,"title":{"text":["East","Asia"]},"transform":[{"filter":"datum.k==='h'&&datum.r==='EA'"}],
 "layer":[
  {"mark":{"type":"line","clip":true,"strokeWidth":2.2},
   "encoding":{
    "x":{"field":"p","type":"quantitative","scale":{"domain":[79.005,100.895],"nice":false,"zero":false},"axis":{"values":[80,90,95,99],"title":null,"tickSize":7,"labelFontSize":16,"labelPadding":7,"gridColor":"#e0e0e0"}},
    "y":{"field":"v","type":"quantitative","scale":{"type":"log","domain":[0.01,100],"nice":false},"axis":{"values":[0.01,0.02,0.03,0.04,0.05,0.06,0.07,0.08,0.09,0.1,0.2,0.3,0.4,0.5,0.6,0.7,0.8,0.9,1,2,3,4,5,6,7,8,9,10,20,30,40,50,60,70,80,90,100],"labels":false,"title":null,"tickSize":{"condition":{"test":"datum.value===0.01||datum.value===0.1||datum.value===1||datum.value===10||datum.value===100","value":7},"value":4},"gridColor":{"condition":{"test":"datum.value===0.01||datum.value===0.1||datum.value===1||datum.value===10||datum.value===100","value":"#d9d9d9"},"value":"#eeeeee"}}},
    "color":{"field":"m","type":"nominal","scale":{"domain":["ERA5","Aurora","SFNO","DLESyM"],"range":["#000000","#17becf","#2ca02c","#ff7f0e"]}},
    "strokeDash":{"field":"m","type":"nominal","scale":{"domain":["ERA5","Aurora","SFNO","DLESyM"],"range":[[1,0],[8,3.5],[13,3.5,2.2,3.5],[2.2,3.6]]},"legend":null}}},
  {"transform":[{"filter":"datum.m==='ERA5'"}],"mark":{"type":"point","clip":true,"filled":true,"opacity":1,"size":100,"strokeWidth":0,"color":"#000000","shape":"M0.9,0A0.9,0.9,0,1,1,-0.9,0A0.9,0.9,0,1,1,0.9,0Z"},"encoding":{"x":{"field":"p","type":"quantitative"},"y":{"field":"v","type":"quantitative"}}},
  {"transform":[{"filter":"datum.m==='Aurora'"}],"mark":{"type":"point","clip":true,"filled":true,"opacity":1,"size":100,"strokeWidth":0,"color":"#17becf","shape":"M-0.85,-0.85L0.85,-0.85L0.85,0.85L-0.85,0.85Z"},"encoding":{"x":{"field":"p","type":"quantitative"},"y":{"field":"v","type":"quantitative"}}},
  {"transform":[{"filter":"datum.m==='SFNO'"}],"mark":{"type":"point","clip":true,"filled":true,"opacity":1,"size":100,"strokeWidth":0,"color":"#2ca02c","shape":"M0,-0.9L1,0.9L-1,0.9Z"},"encoding":{"x":{"field":"p","type":"quantitative"},"y":{"field":"v","type":"quantitative"}}},
  {"transform":[{"filter":"datum.m==='DLESyM'"}],"mark":{"type":"point","clip":true,"filled":true,"opacity":1,"size":100,"strokeWidth":0,"color":"#ff7f0e","shape":"M0,-1.1L1.1,0L0,1.1L-1.1,0Z"},"encoding":{"x":{"field":"p","type":"quantitative"},"y":{"field":"v","type":"quantitative"}}}
 ]},
{"width":202,"height":182,"title":{"text":["SE","Australia"]},"transform":[{"filter":"datum.k==='h'&&datum.r==='SEA'"}],
 "layer":[
  {"mark":{"type":"line","clip":true,"strokeWidth":2.2},
   "encoding":{
    "x":{"field":"p","type":"quantitative","scale":{"domain":[79.005,100.895],"nice":false,"zero":false},"axis":{"values":[80,90,95,99],"title":null,"tickSize":7,"labelFontSize":16,"labelPadding":7,"gridColor":"#e0e0e0"}},
    "y":{"field":"v","type":"quantitative","scale":{"type":"log","domain":[0.01,100],"nice":false},"axis":{"values":[0.01,0.02,0.03,0.04,0.05,0.06,0.07,0.08,0.09,0.1,0.2,0.3,0.4,0.5,0.6,0.7,0.8,0.9,1,2,3,4,5,6,7,8,9,10,20,30,40,50,60,70,80,90,100],"labels":false,"title":null,"tickSize":{"condition":{"test":"datum.value===0.01||datum.value===0.1||datum.value===1||datum.value===10||datum.value===100","value":7},"value":4},"gridColor":{"condition":{"test":"datum.value===0.01||datum.value===0.1||datum.value===1||datum.value===10||datum.value===100","value":"#d9d9d9"},"value":"#eeeeee"}}},
    "color":{"field":"m","type":"nominal","scale":{"domain":["ERA5","Aurora","SFNO","DLESyM"],"range":["#000000","#17becf","#2ca02c","#ff7f0e"]}},
    "strokeDash":{"field":"m","type":"nominal","scale":{"domain":["ERA5","Aurora","SFNO","DLESyM"],"range":[[1,0],[8,3.5],[13,3.5,2.2,3.5],[2.2,3.6]]},"legend":null}}},
  {"transform":[{"filter":"datum.m==='ERA5'"}],"mark":{"type":"point","clip":true,"filled":true,"opacity":1,"size":100,"strokeWidth":0,"color":"#000000","shape":"M0.9,0A0.9,0.9,0,1,1,-0.9,0A0.9,0.9,0,1,1,0.9,0Z"},"encoding":{"x":{"field":"p","type":"quantitative"},"y":{"field":"v","type":"quantitative"}}},
  {"transform":[{"filter":"datum.m==='Aurora'"}],"mark":{"type":"point","clip":true,"filled":true,"opacity":1,"size":100,"strokeWidth":0,"color":"#17becf","shape":"M-0.85,-0.85L0.85,-0.85L0.85,0.85L-0.85,0.85Z"},"encoding":{"x":{"field":"p","type":"quantitative"},"y":{"field":"v","type":"quantitative"}}},
  {"transform":[{"filter":"datum.m==='SFNO'"}],"mark":{"type":"point","clip":true,"filled":true,"opacity":1,"size":100,"strokeWidth":0,"color":"#2ca02c","shape":"M0,-0.9L1,0.9L-1,0.9Z"},"encoding":{"x":{"field":"p","type":"quantitative"},"y":{"field":"v","type":"quantitative"}}},
  {"transform":[{"filter":"datum.m==='DLESyM'"}],"mark":{"type":"point","clip":true,"filled":true,"opacity":1,"size":100,"strokeWidth":0,"color":"#ff7f0e","shape":"M0,-1.1L1.1,0L0,1.1L-1.1,0Z"},"encoding":{"x":{"field":"p","type":"quantitative"},"y":{"field":"v","type":"quantitative"}}}
 ]},
{"width":202,"height":182,"title":{"text":["Amazon"]},"transform":[{"filter":"datum.k==='h'&&datum.r==='AMZ'"}],
 "resolve":{"axis":{"y":"independent"}},
 "layer":[
  {"mark":{"type":"line","clip":true,"strokeWidth":2.2},
   "encoding":{
    "x":{"field":"p","type":"quantitative","scale":{"domain":[79.005,100.895],"nice":false,"zero":false},"axis":{"values":[80,90,95,99],"title":null,"tickSize":7,"labelFontSize":16,"labelPadding":7,"gridColor":"#e0e0e0"}},
    "y":{"field":"v","type":"quantitative","scale":{"type":"log","domain":[0.01,100],"nice":false},"axis":{"values":[0.01,0.02,0.03,0.04,0.05,0.06,0.07,0.08,0.09,0.1,0.2,0.3,0.4,0.5,0.6,0.7,0.8,0.9,1,2,3,4,5,6,7,8,9,10,20,30,40,50,60,70,80,90,100],"labels":false,"title":null,"tickSize":{"condition":{"test":"datum.value===0.01||datum.value===0.1||datum.value===1||datum.value===10||datum.value===100","value":7},"value":4},"gridColor":{"condition":{"test":"datum.value===0.01||datum.value===0.1||datum.value===1||datum.value===10||datum.value===100","value":"#d9d9d9"},"value":"#eeeeee"}}},
    "color":{"field":"m","type":"nominal","scale":{"domain":["ERA5","Aurora","SFNO","DLESyM"],"range":["#000000","#17becf","#2ca02c","#ff7f0e"]}},
    "strokeDash":{"field":"m","type":"nominal","scale":{"domain":["ERA5","Aurora","SFNO","DLESyM"],"range":[[1,0],[8,3.5],[13,3.5,2.2,3.5],[2.2,3.6]]},"legend":null}}},
  {"transform":[{"filter":"datum.m==='ERA5'"}],"mark":{"type":"point","clip":true,"filled":true,"opacity":1,"size":100,"strokeWidth":0,"color":"#000000","shape":"M0.9,0A0.9,0.9,0,1,1,-0.9,0A0.9,0.9,0,1,1,0.9,0Z"},"encoding":{"x":{"field":"p","type":"quantitative"},"y":{"field":"v","type":"quantitative","axis":{"orient":"right","values":[1],"labelExpr":"'(max > P)'","ticks":false,"domain":false,"grid":false,"labelAngle":90,"labelAlign":"center","labelBaseline":"bottom","labelFontWeight":"bold","labelFontSize":22,"labelPadding":3,"title":"Hot","titleAngle":90,"titleBaseline":"bottom","titleFontWeight":"bold","titleFontSize":22,"titlePadding":2}}}},
  {"transform":[{"filter":"datum.m==='Aurora'"}],"mark":{"type":"point","clip":true,"filled":true,"opacity":1,"size":100,"strokeWidth":0,"color":"#17becf","shape":"M-0.85,-0.85L0.85,-0.85L0.85,0.85L-0.85,0.85Z"},"encoding":{"x":{"field":"p","type":"quantitative"},"y":{"field":"v","type":"quantitative","axis":null}}},
  {"transform":[{"filter":"datum.m==='SFNO'"}],"mark":{"type":"point","clip":true,"filled":true,"opacity":1,"size":100,"strokeWidth":0,"color":"#2ca02c","shape":"M0,-0.9L1,0.9L-1,0.9Z"},"encoding":{"x":{"field":"p","type":"quantitative"},"y":{"field":"v","type":"quantitative","axis":null}}},
  {"transform":[{"filter":"datum.m==='DLESyM'"}],"mark":{"type":"point","clip":true,"filled":true,"opacity":1,"size":100,"strokeWidth":0,"color":"#ff7f0e","shape":"M0,-1.1L1.1,0L0,1.1L-1.1,0Z"},"encoding":{"x":{"field":"p","type":"quantitative"},"y":{"field":"v","type":"quantitative","axis":null}}}
 ]},
{"width":202,"height":182,"transform":[{"filter":"datum.k==='c'&&datum.r==='CE'"}],
 "layer":[
  {"mark":{"type":"line","clip":true,"strokeWidth":2.2},
   "encoding":{
    "x":{"field":"p","type":"quantitative","scale":{"domain":[-0.895,20.995],"nice":false,"zero":false},"axis":{"values":[1,5,10,15,20],"title":"Percentile","titleFontSize":19.5,"titlePadding":13,"tickSize":7,"labelFontSize":16,"labelPadding":7,"gridColor":"#e0e0e0"}},
    "y":{"field":"v","type":"quantitative","scale":{"type":"log","domain":[0.01,100],"nice":false},"axis":{"values":[0.01,0.02,0.03,0.04,0.05,0.06,0.07,0.08,0.09,0.1,0.2,0.3,0.4,0.5,0.6,0.7,0.8,0.9,1,2,3,4,5,6,7,8,9,10,20,30,40,50,60,70,80,90,100],"labelExpr":"datum.value===100?'10²':datum.value===10?'10¹':datum.value===1?'10⁰':datum.value===0.1?'10⁻¹':datum.value===0.01?'10⁻²':''","title":"Exceedance rate (%)","titleFontSize":21.5,"labelFontSize":18,"labelPadding":3,"titlePadding":28,"tickSize":{"condition":{"test":"datum.value===0.01||datum.value===0.1||datum.value===1||datum.value===10||datum.value===100","value":7},"value":4},"gridColor":{"condition":{"test":"datum.value===0.01||datum.value===0.1||datum.value===1||datum.value===10||datum.value===100","value":"#d9d9d9"},"value":"#eeeeee"}}},
    "color":{"field":"m","type":"nominal","scale":{"domain":["ERA5","Aurora","SFNO","DLESyM"],"range":["#000000","#17becf","#2ca02c","#ff7f0e"]}},
    "strokeDash":{"field":"m","type":"nominal","scale":{"domain":["ERA5","Aurora","SFNO","DLESyM"],"range":[[1,0],[8,3.5],[13,3.5,2.2,3.5],[2.2,3.6]]},"legend":null}}},
  {"transform":[{"filter":"datum.m==='ERA5'"}],"mark":{"type":"point","clip":true,"filled":true,"opacity":1,"size":100,"strokeWidth":0,"color":"#000000","shape":"M0.9,0A0.9,0.9,0,1,1,-0.9,0A0.9,0.9,0,1,1,0.9,0Z"},"encoding":{"x":{"field":"p","type":"quantitative"},"y":{"field":"v","type":"quantitative"}}},
  {"transform":[{"filter":"datum.m==='Aurora'"}],"mark":{"type":"point","clip":true,"filled":true,"opacity":1,"size":100,"strokeWidth":0,"color":"#17becf","shape":"M-0.85,-0.85L0.85,-0.85L0.85,0.85L-0.85,0.85Z"},"encoding":{"x":{"field":"p","type":"quantitative"},"y":{"field":"v","type":"quantitative"}}},
  {"transform":[{"filter":"datum.m==='SFNO'"}],"mark":{"type":"point","clip":true,"filled":true,"opacity":1,"size":100,"strokeWidth":0,"color":"#2ca02c","shape":"M0,-0.9L1,0.9L-1,0.9Z"},"encoding":{"x":{"field":"p","type":"quantitative"},"y":{"field":"v","type":"quantitative"}}},
  {"transform":[{"filter":"datum.m==='DLESyM'"}],"mark":{"type":"point","clip":true,"filled":true,"opacity":1,"size":100,"strokeWidth":0,"color":"#ff7f0e","shape":"M0,-1.1L1.1,0L0,1.1L-1.1,0Z"},"encoding":{"x":{"field":"p","type":"quantitative"},"y":{"field":"v","type":"quantitative"}}}
 ]},
{"width":202,"height":182,"transform":[{"filter":"datum.k==='c'&&datum.r==='WUS'"}],
 "layer":[
  {"mark":{"type":"line","clip":true,"strokeWidth":2.2},
   "encoding":{
    "x":{"field":"p","type":"quantitative","scale":{"domain":[-0.895,20.995],"nice":false,"zero":false},"axis":{"values":[1,5,10,15,20],"title":"Percentile","titleFontSize":19.5,"titlePadding":13,"tickSize":7,"labelFontSize":16,"labelPadding":7,"gridColor":"#e0e0e0"}},
    "y":{"field":"v","type":"quantitative","scale":{"type":"log","domain":[0.01,100],"nice":false},"axis":{"values":[0.01,0.02,0.03,0.04,0.05,0.06,0.07,0.08,0.09,0.1,0.2,0.3,0.4,0.5,0.6,0.7,0.8,0.9,1,2,3,4,5,6,7,8,9,10,20,30,40,50,60,70,80,90,100],"labels":false,"title":null,"tickSize":{"condition":{"test":"datum.value===0.01||datum.value===0.1||datum.value===1||datum.value===10||datum.value===100","value":7},"value":4},"gridColor":{"condition":{"test":"datum.value===0.01||datum.value===0.1||datum.value===1||datum.value===10||datum.value===100","value":"#d9d9d9"},"value":"#eeeeee"}}},
    "color":{"field":"m","type":"nominal","scale":{"domain":["ERA5","Aurora","SFNO","DLESyM"],"range":["#000000","#17becf","#2ca02c","#ff7f0e"]}},
    "strokeDash":{"field":"m","type":"nominal","scale":{"domain":["ERA5","Aurora","SFNO","DLESyM"],"range":[[1,0],[8,3.5],[13,3.5,2.2,3.5],[2.2,3.6]]},"legend":null}}},
  {"transform":[{"filter":"datum.m==='ERA5'"}],"mark":{"type":"point","clip":true,"filled":true,"opacity":1,"size":100,"strokeWidth":0,"color":"#000000","shape":"M0.9,0A0.9,0.9,0,1,1,-0.9,0A0.9,0.9,0,1,1,0.9,0Z"},"encoding":{"x":{"field":"p","type":"quantitative"},"y":{"field":"v","type":"quantitative"}}},
  {"transform":[{"filter":"datum.m==='Aurora'"}],"mark":{"type":"point","clip":true,"filled":true,"opacity":1,"size":100,"strokeWidth":0,"color":"#17becf","shape":"M-0.85,-0.85L0.85,-0.85L0.85,0.85L-0.85,0.85Z"},"encoding":{"x":{"field":"p","type":"quantitative"},"y":{"field":"v","type":"quantitative"}}},
  {"transform":[{"filter":"datum.m==='SFNO'"}],"mark":{"type":"point","clip":true,"filled":true,"opacity":1,"size":100,"strokeWidth":0,"color":"#2ca02c","shape":"M0,-0.9L1,0.9L-1,0.9Z"},"encoding":{"x":{"field":"p","type":"quantitative"},"y":{"field":"v","type":"quantitative"}}},
  {"transform":[{"filter":"datum.m==='DLESyM'"}],"mark":{"type":"point","clip":true,"filled":true,"opacity":1,"size":100,"strokeWidth":0,"color":"#ff7f0e","shape":"M0,-1.1L1.1,0L0,1.1L-1.1,0Z"},"encoding":{"x":{"field":"p","type":"quantitative"},"y":{"field":"v","type":"quantitative"}}}
 ]},
{"width":202,"height":182,"transform":[{"filter":"datum.k==='c'&&datum.r==='EA'"}],
 "layer":[
  {"mark":{"type":"line","clip":true,"strokeWidth":2.2},
   "encoding":{
    "x":{"field":"p","type":"quantitative","scale":{"domain":[-0.895,20.995],"nice":false,"zero":false},"axis":{"values":[1,5,10,15,20],"title":"Percentile","titleFontSize":19.5,"titlePadding":13,"tickSize":7,"labelFontSize":16,"labelPadding":7,"gridColor":"#e0e0e0"}},
    "y":{"field":"v","type":"quantitative","scale":{"type":"log","domain":[0.01,100],"nice":false},"axis":{"values":[0.01,0.02,0.03,0.04,0.05,0.06,0.07,0.08,0.09,0.1,0.2,0.3,0.4,0.5,0.6,0.7,0.8,0.9,1,2,3,4,5,6,7,8,9,10,20,30,40,50,60,70,80,90,100],"labels":false,"title":null,"tickSize":{"condition":{"test":"datum.value===0.01||datum.value===0.1||datum.value===1||datum.value===10||datum.value===100","value":7},"value":4},"gridColor":{"condition":{"test":"datum.value===0.01||datum.value===0.1||datum.value===1||datum.value===10||datum.value===100","value":"#d9d9d9"},"value":"#eeeeee"}}},
    "color":{"field":"m","type":"nominal","scale":{"domain":["ERA5","Aurora","SFNO","DLESyM"],"range":["#000000","#17becf","#2ca02c","#ff7f0e"]}},
    "strokeDash":{"field":"m","type":"nominal","scale":{"domain":["ERA5","Aurora","SFNO","DLESyM"],"range":[[1,0],[8,3.5],[13,3.5,2.2,3.5],[2.2,3.6]]},"legend":null}}},
  {"transform":[{"filter":"datum.m==='ERA5'"}],"mark":{"type":"point","clip":true,"filled":true,"opacity":1,"size":100,"strokeWidth":0,"color":"#000000","shape":"M0.9,0A0.9,0.9,0,1,1,-0.9,0A0.9,0.9,0,1,1,0.9,0Z"},"encoding":{"x":{"field":"p","type":"quantitative"},"y":{"field":"v","type":"quantitative"}}},
  {"transform":[{"filter":"datum.m==='Aurora'"}],"mark":{"type":"point","clip":true,"filled":true,"opacity":1,"size":100,"strokeWidth":0,"color":"#17becf","shape":"M-0.85,-0.85L0.85,-0.85L0.85,0.85L-0.85,0.85Z"},"encoding":{"x":{"field":"p","type":"quantitative"},"y":{"field":"v","type":"quantitative"}}},
  {"transform":[{"filter":"datum.m==='SFNO'"}],"mark":{"type":"point","clip":true,"filled":true,"opacity":1,"size":100,"strokeWidth":0,"color":"#2ca02c","shape":"M0,-0.9L1,0.9L-1,0.9Z"},"encoding":{"x":{"field":"p","type":"quantitative"},"y":{"field":"v","type":"quantitative"}}},
  {"transform":[{"filter":"datum.m==='DLESyM'"}],"mark":{"type":"point","clip":true,"filled":true,"opacity":1,"size":100,"strokeWidth":0,"color":"#ff7f0e","shape":"M0,-1.1L1.1,0L0,1.1L-1.1,0Z"},"encoding":{"x":{"field":"p","type":"quantitative"},"y":{"field":"v","type":"quantitative"}}}
 ]},
{"width":202,"height":182,"transform":[{"filter":"datum.k==='c'&&datum.r==='SEA'"}],
 "layer":[
  {"mark":{"type":"line","clip":true,"strokeWidth":2.2},
   "encoding":{
    "x":{"field":"p","type":"quantitative","scale":{"domain":[-0.895,20.995],"nice":false,"zero":false},"axis":{"values":[1,5,10,15,20],"title":"Percentile","titleFontSize":19.5,"titlePadding":13,"tickSize":7,"labelFontSize":16,"labelPadding":7,"gridColor":"#e0e0e0"}},
    "y":{"field":"v","type":"quantitative","scale":{"type":"log","domain":[0.01,100],"nice":false},"axis":{"values":[0.01,0.02,0.03,0.04,0.05,0.06,0.07,0.08,0.09,0.1,0.2,0.3,0.4,0.5,0.6,0.7,0.8,0.9,1,2,3,4,5,6,7,8,9,10,20,30,40,50,60,70,80,90,100],"labels":false,"title":null,"tickSize":{"condition":{"test":"datum.value===0.01||datum.value===0.1||datum.value===1||datum.value===10||datum.value===100","value":7},"value":4},"gridColor":{"condition":{"test":"datum.value===0.01||datum.value===0.1||datum.value===1||datum.value===10||datum.value===100","value":"#d9d9d9"},"value":"#eeeeee"}}},
    "color":{"field":"m","type":"nominal","scale":{"domain":["ERA5","Aurora","SFNO","DLESyM"],"range":["#000000","#17becf","#2ca02c","#ff7f0e"]}},
    "strokeDash":{"field":"m","type":"nominal","scale":{"domain":["ERA5","Aurora","SFNO","DLESyM"],"range":[[1,0],[8,3.5],[13,3.5,2.2,3.5],[2.2,3.6]]},"legend":null}}},
  {"transform":[{"filter":"datum.m==='ERA5'"}],"mark":{"type":"point","clip":true,"filled":true,"opacity":1,"size":100,"strokeWidth":0,"color":"#000000","shape":"M0.9,0A0.9,0.9,0,1,1,-0.9,0A0.9,0.9,0,1,1,0.9,0Z"},"encoding":{"x":{"field":"p","type":"quantitative"},"y":{"field":"v","type":"quantitative"}}},
  {"transform":[{"filter":"datum.m==='Aurora'"}],"mark":{"type":"point","clip":true,"filled":true,"opacity":1,"size":100,"strokeWidth":0,"color":"#17becf","shape":"M-0.85,-0.85L0.85,-0.85L0.85,0.85L-0.85,0.85Z"},"encoding":{"x":{"field":"p","type":"quantitative"},"y":{"field":"v","type":"quantitative"}}},
  {"transform":[{"filter":"datum.m==='SFNO'"}],"mark":{"type":"point","clip":true,"filled":true,"opacity":1,"size":100,"strokeWidth":0,"color":"#2ca02c","shape":"M0,-0.9L1,0.9L-1,0.9Z"},"encoding":{"x":{"field":"p","type":"quantitative"},"y":{"field":"v","type":"quantitative"}}},
  {"transform":[{"filter":"datum.m==='DLESyM'"}],"mark":{"type":"point","clip":true,"filled":true,"opacity":1,"size":100,"strokeWidth":0,"color":"#ff7f0e","shape":"M0,-1.1L1.1,0L0,1.1L-1.1,0Z"},"encoding":{"x":{"field":"p","type":"quantitative"},"y":{"field":"v","type":"quantitative"}}}
 ]},
{"width":202,"height":182,"transform":[{"filter":"datum.k==='c'&&datum.r==='AMZ'"}],
 "resolve":{"axis":{"y":"independent"}},
 "layer":[
  {"mark":{"type":"line","clip":true,"strokeWidth":2.2},
   "encoding":{
    "x":{"field":"p","type":"quantitative","scale":{"domain":[-0.895,20.995],"nice":false,"zero":false},"axis":{"values":[1,5,10,15,20],"title":"Percentile","titleFontSize":19.5,"titlePadding":13,"tickSize":7,"labelFontSize":16,"labelPadding":7,"gridColor":"#e0e0e0"}},
    "y":{"field":"v","type":"quantitative","scale":{"type":"log","domain":[0.01,100],"nice":false},"axis":{"values":[0.01,0.02,0.03,0.04,0.05,0.06,0.07,0.08,0.09,0.1,0.2,0.3,0.4,0.5,0.6,0.7,0.8,0.9,1,2,3,4,5,6,7,8,9,10,20,30,40,50,60,70,80,90,100],"labels":false,"title":null,"tickSize":{"condition":{"test":"datum.value===0.01||datum.value===0.1||datum.value===1||datum.value===10||datum.value===100","value":7},"value":4},"gridColor":{"condition":{"test":"datum.value===0.01||datum.value===0.1||datum.value===1||datum.value===10||datum.value===100","value":"#d9d9d9"},"value":"#eeeeee"}}},
    "color":{"field":"m","type":"nominal","scale":{"domain":["ERA5","Aurora","SFNO","DLESyM"],"range":["#000000","#17becf","#2ca02c","#ff7f0e"]}},
    "strokeDash":{"field":"m","type":"nominal","scale":{"domain":["ERA5","Aurora","SFNO","DLESyM"],"range":[[1,0],[8,3.5],[13,3.5,2.2,3.5],[2.2,3.6]]},"legend":null}}},
  {"transform":[{"filter":"datum.m==='ERA5'"}],"mark":{"type":"point","clip":true,"filled":true,"opacity":1,"size":100,"strokeWidth":0,"color":"#000000","shape":"M0.9,0A0.9,0.9,0,1,1,-0.9,0A0.9,0.9,0,1,1,0.9,0Z"},"encoding":{"x":{"field":"p","type":"quantitative"},"y":{"field":"v","type":"quantitative","axis":{"orient":"right","values":[1],"labelExpr":"'(min < P)'","ticks":false,"domain":false,"grid":false,"labelAngle":90,"labelAlign":"center","labelBaseline":"bottom","labelFontWeight":"bold","labelFontSize":22,"labelPadding":3,"title":"Cold","titleAngle":90,"titleBaseline":"bottom","titleFontWeight":"bold","titleFontSize":22,"titlePadding":2}}}},
  {"transform":[{"filter":"datum.m==='Aurora'"}],"mark":{"type":"point","clip":true,"filled":true,"opacity":1,"size":100,"strokeWidth":0,"color":"#17becf","shape":"M-0.85,-0.85L0.85,-0.85L0.85,0.85L-0.85,0.85Z"},"encoding":{"x":{"field":"p","type":"quantitative"},"y":{"field":"v","type":"quantitative","axis":null}}},
  {"transform":[{"filter":"datum.m==='SFNO'"}],"mark":{"type":"point","clip":true,"filled":true,"opacity":1,"size":100,"strokeWidth":0,"color":"#2ca02c","shape":"M0,-0.9L1,0.9L-1,0.9Z"},"encoding":{"x":{"field":"p","type":"quantitative"},"y":{"field":"v","type":"quantitative","axis":null}}},
  {"transform":[{"filter":"datum.m==='DLESyM'"}],"mark":{"type":"point","clip":true,"filled":true,"opacity":1,"size":100,"strokeWidth":0,"color":"#ff7f0e","shape":"M0,-1.1L1.1,0L0,1.1L-1.1,0Z"},"encoding":{"x":{"field":"p","type":"quantitative"},"y":{"field":"v","type":"quantitative","axis":null}}}
 ]}
]
}
